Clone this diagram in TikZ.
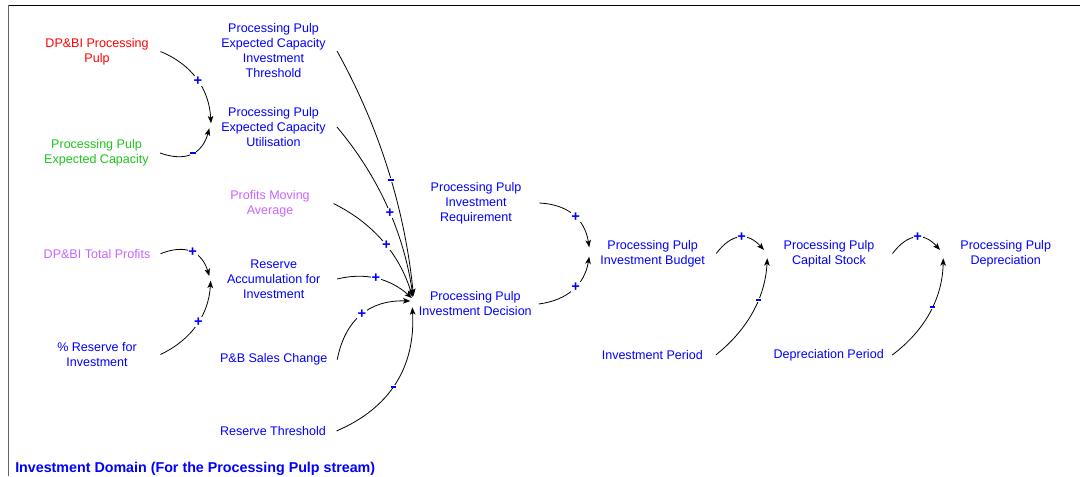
\documentclass[tikz,border=0pt]{standalone}
\usepackage{fontspec}
\setmainfont{Liberation Sans}
\usetikzlibrary{arrows.meta,calc}
\definecolor{vblue}{RGB}{0,0,255}
\definecolor{vred}{RGB}{255,0,0}
\definecolor{vgreen}{RGB}{30,195,30}
\definecolor{vviolet}{RGB}{200,100,255}
\definecolor{framegray}{RGB}{100,100,100}
% short thick bar used as the negative link sign
\newcommand{\negsign}{\rule{3.8pt}{1.6pt}}
\begin{document}
\begin{tikzpicture}[x=0.75pt,y=-0.75pt,
  var/.style={align=center, inner sep=0pt, outer sep=0pt, minimum width=95.25pt,
    font=\fontsize{9.4}{11.25}\selectfont, text=vblue},
  link/.style={line width=0.6pt, draw=black,
    -{Stealth[length=5.5pt,width=4.2pt,inset=1.4pt]}},
  pol/.style={font=\fontsize{11}{12}\selectfont\bfseries, text=vblue,
    fill=white, inner sep=0.5pt}]
\useasboundingbox (0,0) rectangle (1080,476);

% frame
\draw[black, line width=0.8pt] (8.7,5.3) -- (1080,5.3);
\draw[framegray, line width=1pt] (8.7,5.3) -- (8.7,476);

% variables
\node[var, text=vred]    (dpbi) at (97,51.5)    {DP\&BI Processing\\Pulp};
\node[var, text=vgreen]  (epc)  at (96.5,152.5) {Processing Pulp\\Expected Capacity};
\node[var]               (thr)  at (273.5,51)   {Processing Pulp\\Expected Capacity\\Investment\\Threshold};
\node[var]               (util) at (273.5,127)  {Processing Pulp\\Expected Capacity\\Utilisation};
\node[var, text=vviolet] (pma)  at (270,203.5)  {Profits Moving\\Average};
\node[var, text=vviolet] (tp)   at (97,253.7)   {DP\&BI Total Profits};
\node[var]               (rai)  at (273.7,279)  {Reserve\\Accumulation for\\Investment};
\node[var]               (res)  at (97,354.5)   {\% Reserve for\\Investment};
\node[var]               (pbs)  at (273.7,359.7){P\&B Sales Change};
\node[var]               (rt)   at (273,431)    {Reserve Threshold};
\node[var]               (req)  at (476,203)    {Processing Pulp\\Investment\\Requirement};
\node[var]               (dec)  at (475.3,304)  {Processing Pulp\\Investment Decision};
\node[var]               (bud)  at (652.7,253.5){Processing Pulp\\Investment Budget};
\node[var]               (cs)   at (829,253.5)  {Processing Pulp\\Capital Stock};
\node[var]               (dep)  at (1005.7,253.5){Processing Pulp\\Depreciation};
\node[var]               (ip)   at (652.3,355)  {Investment Period};
\node[var]               (dp)   at (828.7,355)  {Depreciation Period};

% causal links
\draw[link] (dpbi.east) .. controls (192.1,64.6) and (209.1,88.8) .. ($(util.west)+(1,-3.7)$);
\draw[link] ($(epc.east)+(0,0.5)$) .. controls (185.9,162.2) and (202.3,154.0) .. ($(util.west)+(-0.7,1.3)$);
\draw[link] (thr.east) .. controls (379.5,127.5) and (404.8,209.2) .. ($(dec.west)+(1.7,-8)$);
\draw[link] (util.east) .. controls (378.4,176.3) and (403.7,232.6) .. ($(dec.west)+(1.2,-7.5)$);
\draw[link] (pma.east) .. controls (373.3,223.3) and (399.6,254.3) .. ($(dec.west)+(0.7,-7)$);
\draw[link] (rai.east) .. controls (365.2,272.0) and (390.2,278.6) .. ($(dec.west)+(0,-6)$);
\draw[link] (pbs.east) .. controls (345.1,319.3) and (369.5,299.9) .. ($(dec.west)+(-1.5,-3)$);
\draw[link] (rt.east) .. controls (390.4,407.8) and (415.5,366.7) .. ($(dec.west)+(0.5,3.3)$);
\draw[link] (tp.east) .. controls (185.7,243.7) and (201.8,251.5) .. ($(rai.west)+(-0.9,-3)$);
\draw[link] (res.east) .. controls (191.7,339.5) and (208.6,315.0) .. ($(rai.west)+(0.5,1.7)$);
\draw[link] (req.east) .. controls (568.2,204.4) and (585.0,219.4) .. ($(bud.west)+(0,-6.2)$);
\draw[link] (dec.east) .. controls (567.8,300.1) and (584.6,284.4) .. ($(bud.west)+(0,3.2)$);
\draw[link] (bud.east) .. controls (731.7,233.1) and (747.7,232.0) .. ($(cs.west)+(-1.5,-3.5)$);
\draw[link] (ip.east) .. controls (748.1,329.1) and (765.2,297.2) .. ($(cs.west)+(1.8,4.8)$);
\draw[link] (cs.east) .. controls (908.0,233.1) and (923.9,232.0) .. ($(dep.west)+(-2.2,-3.5)$);
\draw[link] (dp.east) .. controls (925.5,329.9) and (942.4,298.0) .. ($(dep.west)+(1.1,4.8)$);

% link polarities
\node[pol] (p1)  at (198,81)      {+};
\node[pol] (p2)  at (193,153)     {\negsign};
\node[pol] (p3)  at (391,180)     {\negsign};
\node[pol] (p4)  at (390,213.3)   {+};
\node[pol] (p5)  at (386.5,245.5) {+};
\node[pol] (p6)  at (376,278.3)   {+};
\node[pol] (p7)  at (362,314.3)   {+};
\node[pol] (p8)  at (393.3,386.7) {\negsign};
\node[pol] (p9)  at (192.7,252.3) {+};
\node[pol] (p10) at (198.3,322)   {+};
\node[pol] (p11) at (575.7,217.3) {+};
\node[pol] (p12) at (575.7,286.7) {+};
\node[pol] (p13) at (741.7,237.3) {+};
\node[pol] (p14) at (758.3,300)   {\negsign};
\node[pol] (p15) at (917.7,237.3) {+};
\node[pol] (p16) at (932.3,307.3) {\negsign};

% view title
\node[anchor=base west, inner sep=0pt, text=vblue,
  font=\fontsize{10.7}{12}\selectfont\bfseries] (title) at (15,472)
  {Investment Domain (For the Processing Pulp stream)};
\end{tikzpicture}
\end{document}
